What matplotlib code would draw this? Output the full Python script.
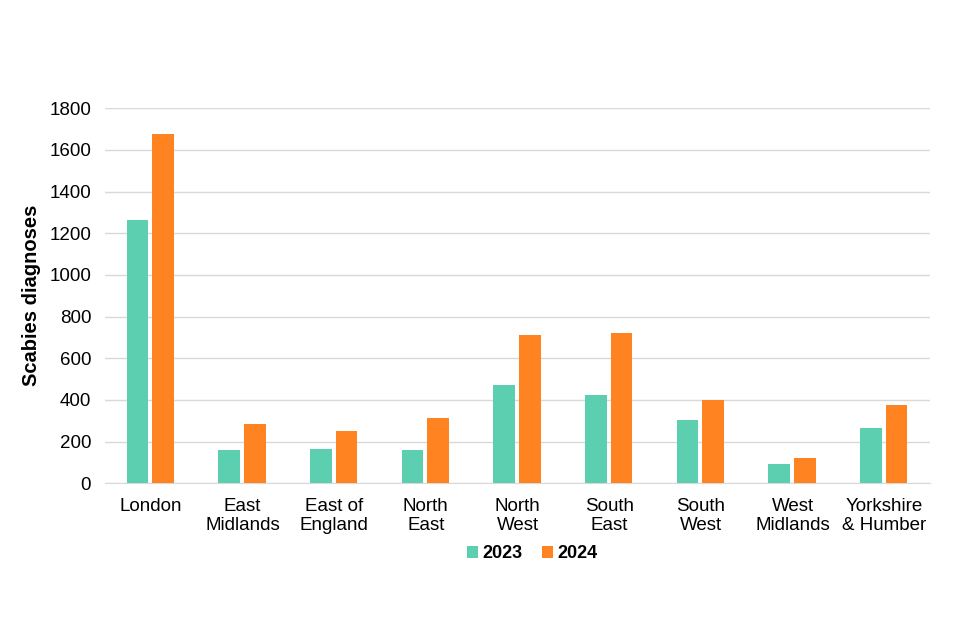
import numpy as np
import matplotlib.pyplot as plt

plt.rcParams['font.family'] = ['Liberation Sans', 'DejaVu Sans']

regions = ['London', 'East\nMidlands', 'East of\nEngland', 'North\nEast', 'North\nWest',
           'South\nEast', 'South\nWest', 'West\nMidlands', 'Yorkshire\n& Humber']
y2023 = [1262, 158, 163, 158, 470, 422, 302, 91, 264]
y2024 = [1675, 283, 250, 312, 710, 720, 398, 120, 374]
yticks = [0, 200, 400, 600, 800, 1000, 1200, 1400, 1600, 1800]

c23 = '#5DCFB1'
c24 = '#FF8320'

fig = plt.figure(figsize=(9.6, 6.4), dpi=100)
ax = fig.add_axes([0.1094, 0.245, 0.8594, 0.586])

x = np.arange(len(regions))
w = 0.235
ax.bar(x - 0.145, y2023, w, color=c23, label='2023', zorder=3)
ax.bar(x + 0.135, y2024, w, color=c24, label='2024', zorder=3)

ax.set_xlim(-0.5, len(regions) - 0.5)
ax.set_ylim(0, 1800)
ax.set_yticks(yticks)
ax.set_xticks(x)
ax.set_xticklabels(regions, fontsize=13.5, linespacing=1.12)
ax.tick_params(axis='y', labelsize=13.5, length=0, pad=10)
ax.tick_params(axis='x', length=0, pad=11)
ax.grid(axis='y', color='#d9d9d9', linewidth=1, zorder=0)
for s in ['top', 'right', 'left']:
    ax.spines[s].set_visible(False)
ax.spines['bottom'].set_color('#d9d9d9')
ax.set_ylabel('Scabies diagnoses', fontsize=14.5, fontweight='bold', labelpad=6)

leg = ax.legend(loc='upper center', bbox_to_anchor=(0.518, -0.122), ncol=2, frameon=False,
                prop={'size': 13, 'weight': 'bold'}, handlelength=0.6, handleheight=0.6,
                handletextpad=0.25, columnspacing=1.1)

fig.savefig('out.png', dpi=100)
